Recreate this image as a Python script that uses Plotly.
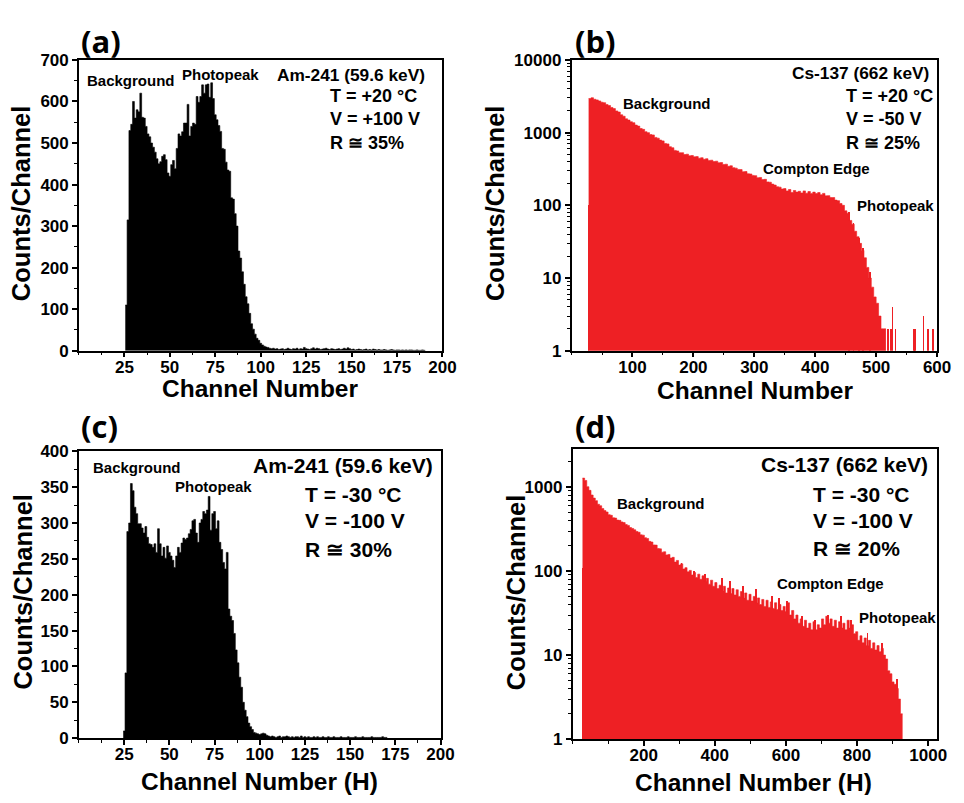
import plotly.graph_objects as go

# target page size; the html body adds an 8 px margin on every side
PAGE_W, PAGE_H = 964, 803
OFF = 8
W, H = PAGE_W - 2 * OFF, PAGE_H - 2 * OFF

# ---------------- data ----------------
# (a) Am-241, T=+20 C, V=+100 V : counts per channel, starting at channel 26
A_FIRST_CH = 26
a_counts = [
    110, 315, 530, 545, 600, 560, 580, 575, 620, 562,
    560, 540, 522, 515, 500, 490, 478, 462, 450, 455,
    468, 472, 460, 428, 420, 448, 458, 438, 487, 522,
    517, 527, 548, 548, 593, 517, 540, 548, 545, 612,
    598, 612, 640, 620, 640, 642, 610, 645, 607, 568,
    556, 542, 528, 487, 485, 454, 435, 432, 368, 365,
    330, 300, 240, 223, 190, 160, 130, 113, 90, 65,
    52, 40, 30, 25, 18, 14, 11, 9, 8, 6,
    5, 6, 4, 5, 3, 4, 5, 3, 4, 6,
    4, 3, 5, 4, 6, 3, 5, 4, 8, 5,
    4, 3, 5, 7, 4, 6, 5, 3, 4, 5,
    6, 4, 3, 5, 4, 3, 4, 5, 3, 4,
    6, 4, 7, 5, 3, 4, 2, 3, 4, 3,
    2, 3, 4, 2, 3, 2, 4, 3, 2, 3,
    2, 2, 3, 2, 1, 2, 3, 2, 1, 2,
    2, 1, 2, 1, 2, 1, 2, 2, 1, 1,
    2, 1, 1, 2, 1,
]

# (c) Am-241, T=-30 C, V=-100 V : counts per channel, starting at channel 25
C_FIRST_CH = 25
c_counts = [
    10, 91, 288, 300, 355, 345, 322, 313, 299, 299,
    293, 286, 295, 280, 271, 270, 266, 271, 259, 292,
    271, 254, 266, 251, 268, 259, 254, 248, 238, 254,
    266, 259, 272, 279, 277, 279, 285, 291, 303, 305,
    286, 273, 300, 305, 316, 313, 318, 337, 290, 313,
    316, 292, 303, 273, 263, 245, 236, 259, 180, 170,
    164, 146, 123, 105, 85, 71, 50, 39, 30, 21,
    16, 12, 8, 7, 6, 5, 6, 7, 6, 4,
    3, 2, 3, 2, 1, 2, 3, 1, 2, 2,
    3, 2, 1, 2, 1, 2, 2, 1, 3, 1,
    2, 1, 2, 1, 1, 2, 1, 2, 1, 1,
    2, 1, 1, 2, 1, 1, 2, 1, 1, 1,
    2, 1, 1, 1, 2, 1, 1, 1, 2, 1,
    1, 1, 2, 1, 1, 1, 1, 2, 1, 1,
    1, 1, 1, 2, 1, 1,
]

# (b) Cs-137, T=+20 C, V=-50 V : counts, 4-channel bins from channel 28
B_BIN = 4
B_FIRST_CH = 28
b_counts = [
    2950, 3020, 2880, 2820, 2730, 2620, 2580, 2430, 2360, 2220,
    2140, 1990, 1920, 1760, 1680, 1550, 1490, 1410, 1370, 1270,
    1230, 1140, 1110, 1030, 1000, 940, 930, 860, 840, 790,
    770, 710, 700, 640, 620, 570, 560, 530, 530, 500,
    505, 480, 485, 465, 468, 445, 452, 430, 438, 415,
    418, 400, 405, 385, 388, 365, 368, 345, 350, 330,
    325, 312, 310, 290, 292, 272, 270, 258, 256, 240,
    242, 226, 228, 210, 208, 196, 190, 180, 178, 168,
    170, 158, 165, 150, 160, 152, 156, 148, 158, 147,
    155, 146, 152, 145, 150, 140, 146, 135, 136, 128,
    128, 118, 116, 106, 100, 84, 78, 62, 55, 44,
    37, 30, 24, 19, 14, 10, 7.5, 5.5, 4.5, 3,
    2, 2,
]
# isolated single-channel bars (left edge, spikes and sparse tail)
b_single_ch = [27, 455, 462, 471, 478, 489, 519, 523, 526, 531, 561, 563, 577, 585, 593]
b_single_counts = [100, 80, 58, 36, 26, 12, 2, 2, 4, 2, 2, 2, 3, 2, 2]

# (d) Cs-137, T=-30 C, V=-100 V : counts, 6-channel bins from channel 28
D_BIN = 6
D_FIRST_CH = 28
d_counts = [
    1280, 1200, 1010, 915, 805, 740, 690, 625, 600, 555,
    525, 505, 470, 462, 432, 428, 405, 402, 385, 378,
    358, 350, 330, 322, 310, 296, 290, 270, 268, 250,
    245, 226, 222, 205, 204, 186, 184, 168, 170, 156,
    158, 143, 146, 128, 134, 118, 122, 106, 110, 98,
    102, 90, 96, 84, 92, 80, 88, 76, 82, 70,
    78, 66, 73, 62, 68, 58, 66, 55, 63, 54,
    62, 52, 60, 50, 57, 48, 55, 45, 53, 44,
    50, 42, 48, 40, 46, 38, 45, 37, 43, 36,
    42, 35, 40, 34, 38, 33, 42, 30, 34, 27,
    30, 24, 27, 22, 26, 21, 24, 20, 25, 20,
    23, 21, 27, 23, 29, 24, 27, 22, 26, 21,
    25, 21, 24, 20, 26, 21, 23, 18, 19, 15,
    17, 14, 16, 13, 15, 12, 14, 11.5, 13, 11,
    12, 10, 9, 6.5, 6, 4.8, 4.5, 4, 3, 2,
]
# isolated single-channel spikes standing above the bulk
d_single_ch = [27, 305, 340, 372, 418, 441, 478, 514, 560, 579, 602, 643, 680, 717, 754, 782, 828, 869, 911]
d_single_counts = [107, 125, 100, 92, 82, 75, 66, 60, 50, 48, 44, 29, 26, 30, 29, 26, 18, 14, 5.2]

# tick values
a_xticks = [25, 50, 75, 100, 125, 150, 175, 200]
a_yticks = [0, 100, 200, 300, 400, 500, 600, 700]
c_yticks = [0, 50, 100, 150, 200, 250, 300, 350, 400]
b_xticks = [100, 200, 300, 400, 500, 600]
d_xticks = [200, 400, 600, 800, 1000]
b_yticks = [1, 10, 100, 1000, 10000]
d_yticks = [1, 10, 100, 1000]

BLACK = "#000000"
RED = "#EE2024"
FONT = "Liberation Sans"

# ---------------- helpers ----------------
def dom_x(p0, p1):
    return [(p0 - OFF) / W, (p1 - OFF) / W]

def dom_y(top, bottom):
    return [1 - (bottom - OFF) / H, 1 - (top - OFF) / H]

def log_minor(top_decade):
    vals = []
    for d in range(top_decade):
        for m in range(2, 10):
            vals.append(m * 10 ** d)
    return vals

tickfont = dict(family=FONT, size=17, color="black", weight="bold")
axis_common = dict(showline=True, linecolor="black", linewidth=1.5, mirror=True,
                   ticks="outside", ticklen=5, tickwidth=1.5, tickcolor="black",
                   showgrid=False, zeroline=False, tickfont=tickfont)

def lin_axis(domain, rng, tickvals, minor_dtick, anchor, standoff=0):
    d = dict(axis_common)
    d.update(domain=domain, range=rng, tickmode="array", tickvals=tickvals,
             ticktext=[str(v) for v in tickvals], anchor=anchor,
             ticklabelstandoff=standoff,
             minor=dict(ticks="outside", ticklen=3, tickwidth=1.2, tickcolor="black",
                        dtick=minor_dtick, tick0=0, showgrid=False))
    return d

def log_axis(domain, rng, tickvals, anchor, top_decade):
    d = dict(axis_common)
    d.update(domain=domain, type="log", range=rng, tickmode="array", tickvals=tickvals,
             ticktext=[str(v) for v in tickvals], anchor=anchor,
             minor=dict(ticks="outside", ticklen=3, tickwidth=1.0, tickcolor="black",
                        tickmode="array", tickvals=log_minor(top_decade), showgrid=False))
    return d

def hist_area(first_edge, bin_w, counts, color, xa, ya):
    """Histogram drawn as one filled step outline (no seams between bins)."""
    edges = [first_edge + bin_w * i for i in range(len(counts) + 1)]
    ys = list(counts) + [counts[-1]]
    return go.Scatter(x=edges, y=ys, mode="lines",
                      line=dict(shape="hv", width=0.6, color=color),
                      fill="tozeroy", fillcolor=color,
                      xaxis=xa, yaxis=ya, showlegend=False, hoverinfo="x+y")

def bar(xs, ys, width, color, xa, ya):
    return go.Bar(x=xs, y=ys, width=[width] * len(xs),
                  marker=dict(color=color, line=dict(width=0)),
                  xaxis=xa, yaxis=ya, showlegend=False, hoverinfo="x+y")

fig = go.Figure()
# (a)
fig.add_trace(hist_area(A_FIRST_CH - 0.5, 1, a_counts, BLACK, "x", "y"))
# (b)
fig.add_trace(hist_area(B_FIRST_CH, B_BIN, b_counts, RED, "x2", "y2"))
fig.add_trace(bar(b_single_ch, b_single_counts, 1.3, RED, "x2", "y2"))
# (c)
fig.add_trace(hist_area(C_FIRST_CH - 0.5, 1, c_counts, BLACK, "x3", "y3"))
# (d)
fig.add_trace(hist_area(D_FIRST_CH, D_BIN, d_counts, RED, "x4", "y4"))
fig.add_trace(bar(d_single_ch, d_single_counts, 2.2, RED, "x4", "y4"))

fig.update_layout(
    width=W, height=H, margin=dict(l=0, r=0, t=0, b=0),
    paper_bgcolor="white", plot_bgcolor="white", barmode="overlay", bargap=0,
    xaxis=lin_axis(dom_x(80, 449), [0, 200], a_xticks, 12.5, "y", -5),
    yaxis=lin_axis(dom_y(52, 350), [0, 700], a_yticks, 50, "x"),
    xaxis2=lin_axis(dom_x(580, 951), [0, 600], b_xticks, 50, "y2", -5),
    yaxis2=log_axis(dom_y(52, 350), [0, 4], b_yticks, "x2", 4),
    xaxis3=lin_axis(dom_x(80, 447), [0, 200], a_xticks, 12.5, "y3", -5),
    yaxis3=lin_axis(dom_y(453, 747), [0, 400], c_yticks, 25, "x3"),
    xaxis4=lin_axis(dom_x(581, 951), [0, 1025], d_xticks, 100, "y4", -5),
    yaxis4=log_axis(dom_y(451, 748), [0, 3.45], d_yticks, "x4", 4),
)

def ann(text, x, y, size, xanchor="left", angle=0, family=FONT):
    return dict(text=text, x=(x - OFF) / W, y=1 - (y - OFF) / H, xref="paper", yref="paper",
                xanchor=xanchor, yanchor="middle", showarrow=False, textangle=angle,
                font=dict(family=family, size=size, color="black", weight="bold"))

PANEL_FONT = "Open Sans"
anns = [
    # panel letters
    ann("(a)", 80, 33, 31, family=PANEL_FONT),
    ann("(b)", 581, 33, 31, family=PANEL_FONT),
    ann("(c)", 80, 427, 31, family=PANEL_FONT),
    ann("(d)", 581, 427, 31, family=PANEL_FONT),
    # axis titles
    ann("Channel Number", 264, 389, 24.5, xanchor="center"),
    ann("Channel Number", 766, 391, 24.5, xanchor="center"),
    ann("Channel Number (H)", 263, 791, 24.5, xanchor="center"),
    ann("Channel Number (H)", 765, 792, 24.5, xanchor="center"),
    ann("Counts/Channel", 22, 199, 25.5, xanchor="center", angle=-90),
    ann("Counts/Channel", 503, 199, 25.5, xanchor="center", angle=-90),
    ann("Counts/Channel", 23, 597, 25.5, xanchor="center", angle=-90),
    ann("Counts/Channel", 523, 597, 25.5, xanchor="center", angle=-90),
    # (a)
    ann("Background", 86, 73, 15),
    ann("Photopeak", 183, 67, 15),
    ann("Am-241 (59.6 keV)", 279, 67, 17.3),
    ann("T = +20 °C", 333, 89, 18),
    ann("V = +100 V", 333, 113, 18),
    ann("R ≅ 35%", 333, 137, 18),
    # (b)
    ann("Cs-137 (662 keV)", 802, 65, 17.3),
    ann("T = +20 °C", 857, 89, 18),
    ann("V = -50 V", 857, 113, 18),
    ann("R ≅ 25%", 857, 137, 18),
    ann("Background", 630, 97, 15),
    ann("Compton Edge", 772, 163, 15),
    ann("Photopeak", 868, 201, 15),
    # (c)
    ann("Background", 92, 470, 15),
    ann("Photopeak", 175, 489, 15),
    ann("Am-241 (59.6 keV)", 255, 468, 21),
    ann("T = -30 °C", 307, 497, 21),
    ann("V = -100 V", 307, 524, 21),
    ann("R ≅ 30%", 307, 554, 21),
    # (d)
    ann("Cs-137 (662 keV)", 770, 467, 21),
    ann("T = -30 °C", 823, 497, 21),
    ann("V = -100 V", 823, 524, 21),
    ann("R ≅ 20%", 823, 553, 21),
    ann("Background", 624, 507, 15),
    ann("Compton Edge", 786, 589, 15),
    ann("Photopeak", 870, 623, 15),
]
fig.update_layout(annotations=anns)

fig.write_html("out.html")
